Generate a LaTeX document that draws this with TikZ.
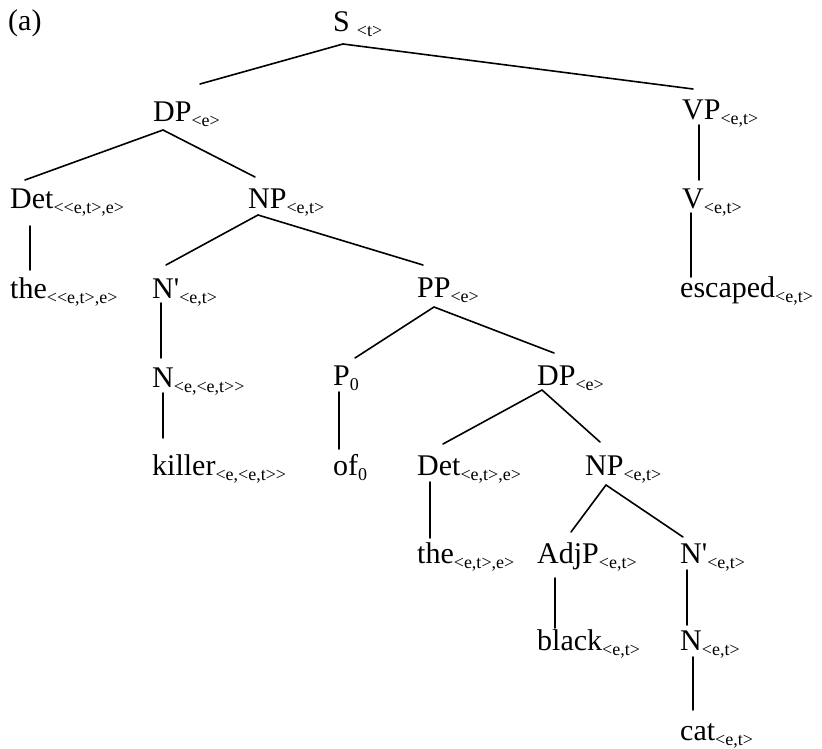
\documentclass[tikz,border=0pt]{standalone}
\usepackage{fontspec}
\newfontfamily\tnr{Liberation Serif}
% semantic type written small and lowered after a category label
\newcommand{\typesub}[1]{\raisebox{-5pt}{\fontsize{18}{20}\selectfont #1}}
\tikzset{
  lab/.style={anchor=base west, inner sep=0pt, font=\tnr\fontsize{30}{36}\selectfont},
  branch/.style={line width=1.6pt, line cap=round},
}
\begin{document}
\begin{tikzpicture}[x=1pt,y=-1pt]
\useasboundingbox (0,0) rectangle (822,749);

% labels
\node[lab] (tag)     at (8,31)    {(a)};
\node[lab] (S)       at (333,32)  {S\hspace{7pt}\typesub{<t>}};
\node[lab] (DPa)     at (153,122) {DP\typesub{<e>}};
\node[lab] (VP)      at (682,120) {VP\typesub{<e,t>}};
\node[lab] (Deta)    at (10,208)  {Det\typesub{<<e,t>,e>}};
\node[lab] (NPa)     at (248,208) {NP\typesub{<e,t>}};
\node[lab] (V)       at (682,208) {V\typesub{<e,t>}};
\node[lab] (thea)    at (10,298)  {the\typesub{<<e,t>,e>}};
\node[lab] (Nbara)   at (152,298) {N'\typesub{<e,t>}};
\node[lab] (PP)      at (417,297) {PP\typesub{<e>}};
\node[lab] (escaped) at (680,297) {escaped\typesub{<e,t>}};
\node[lab] (Na)      at (152,387) {N\typesub{<e,<e,t>>}};
\node[lab] (P)       at (333,385) {P\typesub{0}};
\node[lab] (DPb)     at (537,385) {DP\typesub{<e>}};
\node[lab] (killer)  at (152,475) {killer\typesub{<e,<e,t>>}};
\node[lab] (of)      at (333,475) {of\typesub{0}};
\node[lab] (Detb)    at (417,475) {Det\typesub{<e,t>,e>}};
\node[lab] (NPb)     at (585,475) {NP\typesub{<e,t>}};
\node[lab] (theb)    at (417,563) {the\typesub{<e,t>,e>}};
\node[lab] (AdjP)    at (537,563) {AdjP\typesub{<e,t>}};
\node[lab] (Nbarb)   at (680,563) {N'\typesub{<e,t>}};
\node[lab] (black)   at (537,650) {black\typesub{<e,t>}};
\node[lab] (Nb)      at (680,650) {N\typesub{<e,t>}};
\node[lab] (cat)     at (680,740) {cat\typesub{<e,t>}};

% branches
\draw[branch] ([shift={(10,12)}]S.base west) -- ([shift={(47,-38)}]DPa.base west);
\draw[branch] ([shift={(10,12)}]S.base west) -- ([shift={(11,-31)}]VP.base west);
\draw[branch] ([shift={(10,8)}]DPa.base west) -- ([shift={(15,-28)}]Deta.base west);
\draw[branch] ([shift={(10,8)}]DPa.base west) -- ([shift={(7,-31)}]NPa.base west);
\draw[branch] ([shift={(17,5)}]VP.base west) -- ([shift={(17,-28)}]V.base west);
\draw[branch] ([shift={(20,18)}]Deta.base west) -- ([shift={(20,-28)}]thea.base west);
\draw[branch] ([shift={(10,7)}]NPa.base west) -- ([shift={(14,-33)}]Nbara.base west);
\draw[branch] ([shift={(10,7)}]NPa.base west) -- ([shift={(6,-32)}]PP.base west);
\draw[branch] ([shift={(9,5)}]V.base west) -- ([shift={(11,-20)}]escaped.base west);
\draw[branch] ([shift={(9,5)}]Nbara.base west) -- ([shift={(9,-29)}]Na.base west);
\draw[branch] ([shift={(17,10)}]PP.base west) -- ([shift={(22,-27)}]P.base west);
\draw[branch] ([shift={(17,10)}]PP.base west) -- ([shift={(17,-32)}]DPb.base west);
\draw[branch] ([shift={(11,6)}]Na.base west) -- ([shift={(11,-37)}]killer.base west);
\draw[branch] ([shift={(6,7)}]P.base west) -- ([shift={(6,-26)}]of.base west);
\draw[branch] ([shift={(5,5)}]DPb.base west) -- ([shift={(26,-31)}]Detb.base west);
\draw[branch] ([shift={(5,5)}]DPb.base west) -- ([shift={(15,-33)}]NPb.base west);
\draw[branch] ([shift={(13,7)}]Detb.base west) -- ([shift={(13,-25)}]theb.base west);
\draw[branch] ([shift={(21,10)}]NPb.base west) -- ([shift={(34,-31)}]AdjP.base west);
\draw[branch] ([shift={(21,10)}]NPb.base west) -- ([shift={(3,-26)}]Nbarb.base west);
\draw[branch] ([shift={(18,15)}]AdjP.base west) -- ([shift={(18,-22)}]black.base west);
\draw[branch] ([shift={(7,7)}]Nbarb.base west) -- ([shift={(7,-25)}]Nb.base west);
\draw[branch] ([shift={(13,7)}]Nb.base west) -- ([shift={(13,-30)}]cat.base west);
\end{tikzpicture}
\end{document}
